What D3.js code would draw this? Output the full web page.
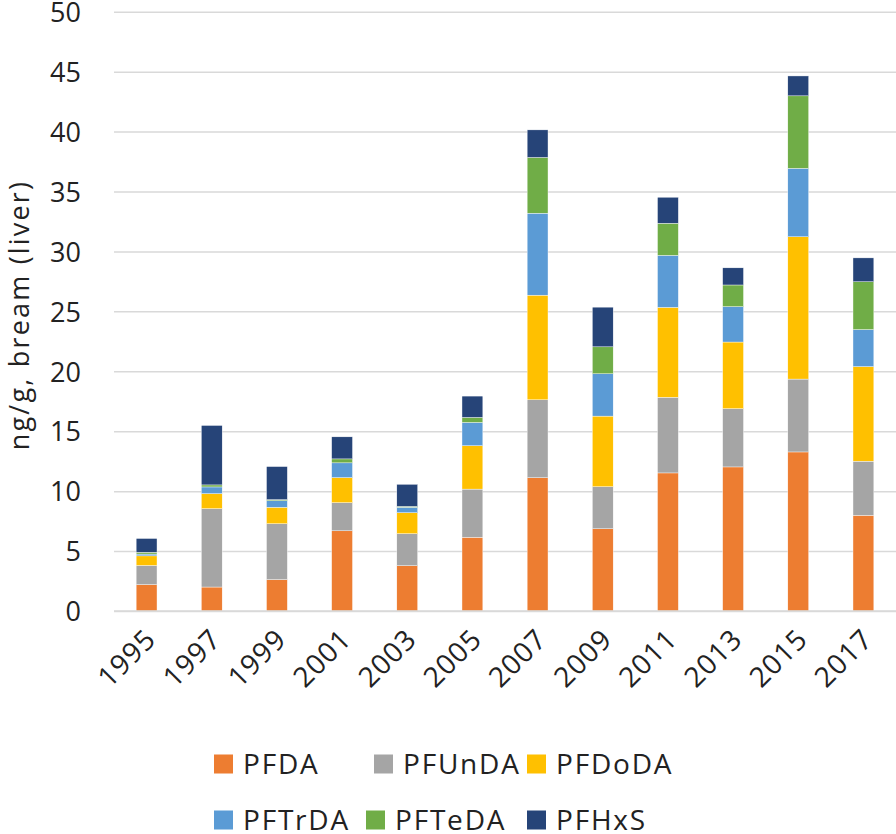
<!DOCTYPE html>
<html>
<head>
<meta charset="utf-8">
<script src="https://cdn.jsdelivr.net/npm/d3@7"></script>
<style>
  html, body { margin: 0; padding: 0; background: #fff; }
  svg { display: block; }
  text { font-family: "Open Sans", "Noto Sans", sans-serif; fill: #222; }
</style>
</head>
<body>
<svg id="chart" width="896" height="834"></svg>
<script>
const years = ["1995","1997","1999","2001","2003","2005","2007","2009","2011","2013","2015","2017"];
const seriesNames = ["PFDA","PFUnDA","PFDoDA","PFTrDA","PFTeDA","PFHxS"];
const PFDA   = [2.2, 2.0, 2.62, 6.69, 3.78, 6.15, 11.12, 6.86, 11.52, 12.02, 13.27, 7.98];
const PFUnDA = [1.6, 6.54, 4.66, 2.35, 2.67, 4.02, 6.5, 3.51, 6.31, 4.86, 6.08, 4.52];
const PFDoDA = [0.8, 1.25, 1.37, 2.09, 1.75, 3.62, 8.73, 5.89, 7.5, 5.56, 11.87, 7.89];
const PFTrDA = [0.15, 0.56, 0.55, 1.23, 0.45, 1.94, 6.84, 3.53, 4.34, 2.95, 5.71, 3.09];
const PFTeDA = [0.15, 0.17, 0.09, 0.33, 0.08, 0.42, 4.65, 2.25, 2.68, 1.81, 6.05, 3.99];
const PFHxS  = [1.15, 4.96, 2.76, 1.84, 1.84, 1.78, 2.3, 3.31, 2.17, 1.43, 1.66, 1.99];
const yTicks = [0,5,10,15,20,25,30,35,40,45,50];
const colors = ["#ED7D31","#A5A5A5","#FFC000","#5B9BD5","#70AD47","#264478"];
const yLabel = "ng/g, bream (liver)";

const seriesValues = [PFDA, PFUnDA, PFDoDA, PFTrDA, PFTeDA, PFHxS];
const rows = years.map((yr, i) => {
  const r = { year: yr };
  seriesNames.forEach((s, k) => r[s] = seriesValues[k][i]);
  return r;
});
const stacked = d3.stack().keys(seriesNames)(rows);

const svg = d3.select("#chart");
const mLeft = 114, mRight = 896, mTop = 11.7, mBottom = 611;

const x = d3.scaleBand().domain(years).range([mLeft, mRight]).paddingInner(0.68).paddingOuter(0.34);
const y = d3.scaleLinear().domain([0, 50]).range([mBottom, mTop]);

// gridlines
const grid = svg.append("g")
  .attr("transform", `translate(${mLeft},0)`)
  .call(d3.axisLeft(y).tickValues(yTicks).tickSize(-(mRight - mLeft)).tickFormat(""));
grid.select(".domain").remove();
grid.selectAll("line").attr("stroke", "#d9d9d9").attr("stroke-width", 1.5);

// y tick labels
const yAxis = svg.append("g")
  .attr("transform", `translate(${mLeft - 33},0)`)
  .call(d3.axisLeft(y).tickValues(yTicks).tickSize(0).tickPadding(0));
yAxis.select(".domain").remove();
yAxis.selectAll("text").attr("font-size", 27).attr("dy", "0.36em")
  .style("font-family", '"Open Sans", sans-serif').attr("fill", "#222");

// bars
svg.append("g").selectAll("g").data(stacked).join("g")
  .attr("fill", (d, i) => colors[i])
  .selectAll("rect").data(d => d).join("rect")
  .attr("x", d => x(d.data.year))
  .attr("width", x.bandwidth())
  .attr("y", d => y(d[1]))
  .attr("height", d => y(d[0]) - y(d[1]))
  .attr("stroke", "#ffffff").attr("stroke-width", 0.4);

// x axis
const xAxis = svg.append("g")
  .attr("transform", `translate(0,${mBottom})`)
  .call(d3.axisBottom(x).tickSize(0).tickPadding(0));
xAxis.select(".domain").attr("stroke", "#d9d9d9").attr("stroke-width", 1.5)
  .attr("d", `M${mLeft},0H${mRight}`);
xAxis.selectAll("text")
  .attr("font-size", 28)
  .attr("letter-spacing", 1)
  .attr("text-anchor", "end")
  .attr("dy", 0)
  .attr("y", 0)
  .attr("transform", "translate(11,30) rotate(-45)")
  .style("font-family", '"Open Sans", sans-serif')
  .attr("fill", "#222");

// y label
svg.append("text")
  .attr("transform", `translate(29,315) rotate(-90)`)
  .attr("text-anchor", "middle")
  .attr("font-size", 27)
  .attr("letter-spacing", 2.2)
  .text(yLabel);

// legend
const legendPos = [[214,764],[374,764],[527,764],[214,820],[366,820],[527,820]];
const lg = svg.append("g");
seriesNames.forEach((s, i) => {
  const [lx, ly] = legendPos[i];
  lg.append("rect").attr("x", lx).attr("y", ly - 9.5).attr("width", 19).attr("height", 19).attr("fill", colors[i]);
  lg.append("text").attr("x", lx + 29).attr("y", ly).attr("dy", "0.36em")
    .attr("font-size", 28).attr("letter-spacing", 1.8).text(s);
});
</script>
</body>
</html>
